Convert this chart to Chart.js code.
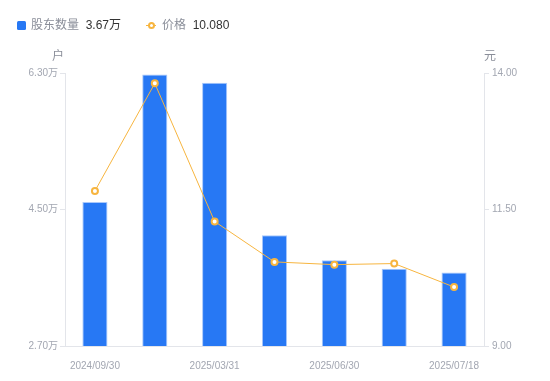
<!DOCTYPE html>
<html>
<head>
<meta charset="utf-8">
<script src="https://cdn.jsdelivr.net/npm/chart.js@4/dist/chart.umd.min.js"></script>
<style>
  html, body { margin: 0; padding: 0; background: #fff; }
  #wrap { position: relative; width: 550px; height: 381px; font-family: "Liberation Sans", "Noto Sans CJK SC", sans-serif; }
  #legend { position: absolute; left: 0; top: 0; width: 550px; height: 50px; font-size: 12px; }
  .lg { position: absolute; top: 17px; line-height: 16px; white-space: nowrap; }
  .lab { color: #8a8e99; }
  .val { color: #333; }
</style>
</head>
<body>
<div id="wrap">
  <canvas id="c"></canvas>
  <div id="legend"></div>
</div>
<script>
const categories = ['2024/09/30', '2024/12/31', '2025/03/31', '2025/04/30', '2025/06/30', '2025/07/10', '2025/07/18'];
const holders = [4.60, 6.28, 6.17, 4.16, 3.83, 3.72, 3.67];   // 万户
const prices = [11.84, 13.81, 11.28, 10.54, 10.49, 10.51, 10.08]; // 元
const holderTicks = [2.70, 4.50, 6.30];
const priceTicks = [9.00, 11.50, 14.00];
const shownLabels = ['2024/09/30', '2025/03/31', '2025/06/30', '2025/07/18'];
const holderName = '股东数量';
const priceName = '价格';
const holderUnit = '户';
const priceUnit = '元';

const BLUE = '#2778F4';
const ORANGE = '#F7B53F';
const AXIS = '#e3e5ea';
const TICKTXT = '#a2a6b1';
const FONT = '"Liberation Sans", "Noto Sans CJK SC", sans-serif';

// HTML legend (real text)
const legend = document.getElementById('legend');
legend.innerHTML =
  '<div class="lg" style="left:17px"><span style="display:inline-block;width:9px;height:9px;background:' + BLUE + ';border-radius:1.5px;vertical-align:-0.5px;margin-right:5px"></span>' +
  '<span class="lab">' + holderName + '</span>&nbsp;&nbsp;<span class="val">' + holders[holders.length - 1].toFixed(2) + '万</span></div>' +
  '<div class="lg" style="left:146px"><span style="display:inline-block;position:relative;width:10px;height:9px;margin-right:6px;vertical-align:-0.5px">' +
  '<span style="position:absolute;left:0;top:4px;width:10px;height:1.5px;background:' + ORANGE + '"></span>' +
  '<span style="position:absolute;left:1.5px;top:1px;width:3px;height:3px;border:2px solid ' + ORANGE + ';border-radius:50%;background:#fff"></span></span>' +
  '<span class="lab">' + priceName + '</span>&nbsp;&nbsp;<span class="val">' + prices[prices.length - 1].toFixed(3) + '</span></div>';

const unitTitles = {
  id: 'unitTitles',
  afterDraw(chart) {
    const ctx = chart.ctx;
    const yl = chart.scales.y, yr = chart.scales.y1;
    ctx.save();
    ctx.font = '12px ' + FONT;
    ctx.fillStyle = '#8a8e99';
    ctx.textAlign = 'center';
    ctx.textBaseline = 'middle';
    ctx.fillText(holderUnit, yl.right - 7, yl.top - 16);
    ctx.fillText(priceUnit, yr.left + 6, yr.top - 16);
    ctx.restore();
  }
};

new Chart(document.getElementById('c'), {
  data: {
    labels: categories,
    datasets: [
      {
        type: 'line',
        label: priceName,
        data: prices,
        yAxisID: 'y1',
        borderColor: ORANGE,
        borderWidth: 1,
        tension: 0,
        pointRadius: 3,
        pointBorderWidth: 2,
        pointBackgroundColor: '#fff',
        pointBorderColor: ORANGE,
        order: 0
      },
      {
        type: 'bar',
        label: holderName,
        data: holders,
        yAxisID: 'y',
        backgroundColor: BLUE,
        borderColor: '#a9c8fb',
        borderWidth: 1,
        barPercentage: 0.42,
        categoryPercentage: 1,
        order: 1
      }
    ]
  },
  options: {
    responsive: true,
    maintainAspectRatio: false,
    animation: false,
    layout: { padding: { top: 73, left: 0, right: 0, bottom: 0 } },
    plugins: { legend: { display: false }, tooltip: { enabled: false } },
    scales: {
      x: {
        offset: true,
        grid: { display: false },
        border: { display: true, color: AXIS },
        ticks: {
          autoSkip: false,
          maxRotation: 0,
          padding: 6,
          color: TICKTXT,
          font: { size: 10, family: FONT },
          callback: function (v, i) { const l = categories[i]; return shownLabels.includes(l) ? l : ''; }
        },
        afterFit(s) { s.height = 35; }
      },
      y: {
        position: 'left',
        min: holderTicks[0],
        max: holderTicks[holderTicks.length - 1],
        afterBuildTicks(s) { s.ticks = holderTicks.map(v => ({ value: v })); },
        grid: { drawOnChartArea: false, drawTicks: true, tickLength: 5, color: AXIS },
        border: { display: true, color: AXIS },
        ticks: {
          padding: 2,
          color: TICKTXT,
          font: { size: 10, family: FONT },
          callback: v => v.toFixed(2) + '万'
        },
        afterFit(s) { s.width = 65; }
      },
      y1: {
        position: 'right',
        min: priceTicks[0],
        max: priceTicks[priceTicks.length - 1],
        afterBuildTicks(s) { s.ticks = priceTicks.map(v => ({ value: v })); },
        grid: { drawOnChartArea: false, drawTicks: true, tickLength: 5, color: AXIS },
        border: { display: true, color: AXIS },
        ticks: {
          padding: 3,
          color: TICKTXT,
          font: { size: 10, family: FONT },
          callback: v => v.toFixed(2)
        },
        afterFit(s) { s.width = 66; }
      }
    }
  },
  plugins: [unitTitles]
});
</script>
</body>
</html>
